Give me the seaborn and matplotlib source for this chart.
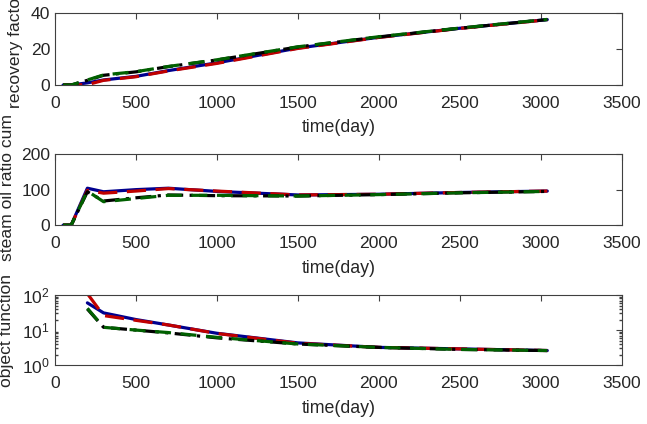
import seaborn as sns
import pandas as pd
import matplotlib.pyplot as plt
from matplotlib.ticker import LogLocator, NullFormatter

# data
days = [50, 100, 200, 300, 500, 700, 1000, 1500, 2000, 2500, 3040]

rf_blue = [0, 0, 1.2, 2.8, 4.8, 8, 12.3, 20.5, 26.5, 31.5, 36.3]
rf_red = [0, 0, 0.2, 2.6, 4.6, 7.8, 12, 20.3, 26.4, 31.4, 36.2]
rf_green = [0, 0, 2.8, 5.6, 7.4, 10.3, 14, 21.2, 26.8, 31.6, 36.4]
rf_black = [0, 0, 2.6, 5.4, 7.3, 10.2, 13.9, 21.1, 26.7, 31.5, 36.3]

sor_blue = [0, 0, 104, 94, 100, 104, 95, 85, 87, 92, 96]
sor_red = [0, 0, 98, 90, 96, 103, 96, 85, 87, 92, 96]
sor_green = [0, 0, 96, 66, 75, 84, 84, 82, 86, 91, 95]
sor_black = [0, 0, 94, 68, 77, 85, 83, 82, 86, 91, 95]

of_days = [200, 300, 500, 700, 1000, 1500, 2000, 2500, 3040]
of_blue = [60, 31, 20, 14, 8.1, 4.3, 3.2, 2.9, 2.6]
of_red = [110, 26, 19, 14, 8.0, 4.2, 3.2, 2.9, 2.6]
of_green = [42, 12, 10, 8.5, 6.2, 4.0, 3.2, 2.8, 2.6]
of_black = [40, 12, 10, 8.3, 6.0, 4.0, 3.2, 2.8, 2.6]

sns.set_theme(style="white")
plt.rcParams['font.family'] = ['Liberation Sans', 'DejaVu Sans']

fig = plt.figure(figsize=(6.47, 4.24), dpi=100)
boxes = [[0.085, 0.7995, 0.876, 0.170],
         [0.085, 0.469, 0.876, 0.1675],
         [0.085, 0.139, 0.876, 0.165]]
axes = [fig.add_axes(b) for b in boxes]

styles = [("blue", "#00008f", (None, None)),
          ("red", "#c00000", (6, 3)),
          ("black", "black", (5, 2, 1, 2)),
          ("green", "#006000", (5, 3))]

panels = [
    (days, {"blue": rf_blue, "red": rf_red, "black": rf_black, "green": rf_green}),
    (days, {"blue": sor_blue, "red": sor_red, "black": sor_black, "green": sor_green}),
    (of_days, {"blue": of_blue, "red": of_red, "black": of_black, "green": of_green}),
]

for ax, (x, series) in zip(axes, panels):
    for name, col, dash in styles:
        df = pd.DataFrame({"day": x, "val": series[name]})
        sns.lineplot(x="day", y="val", data=df, ax=ax, color=col, linewidth=2.3)
        line = ax.get_lines()[-1]
        if dash[0] is not None:
            line.set_dashes(dash)

ylabels = ["recovery factor", "steam oil ratio cum", "object function"]
label_pos = [(-0.056, 0.49), (-0.0705, 0.53), (-0.072, 0.5)]
for i, ax in enumerate(axes):
    ax.set_xlim(0, 3500)
    ax.set_xticks(range(0, 3501, 500))
    ax.set_xlabel("time(day)", fontsize=12.8, labelpad=6)
    ax.set_ylabel(ylabels[i], fontsize=12.6)
    ax.yaxis.set_label_coords(*label_pos[i])
    ax.tick_params(direction="in", top=True, right=True, length=4,
                   labelsize=12.6, width=0.8, color="0.25")
    ax.tick_params(axis="x", pad=8)
    for s in ax.spines.values():
        s.set_color("0.25")
        s.set_linewidth(0.8)

axes[0].set_ylim(0, 40)
axes[0].set_yticks([0, 20, 40])
axes[1].set_ylim(0, 200)
axes[1].set_yticks([0, 100, 200])
axes[2].set_yscale("log")
axes[2].set_ylim(1, 100)
axes[2].yaxis.set_major_locator(LogLocator(base=10, numticks=5))
axes[2].yaxis.set_minor_locator(LogLocator(base=10, subs=range(2, 10), numticks=10))
axes[2].yaxis.set_minor_formatter(NullFormatter())
axes[2].tick_params(which="minor", direction="in", left=True, right=True, length=2, color="0.25")

plt.savefig("out.png", dpi=100)
